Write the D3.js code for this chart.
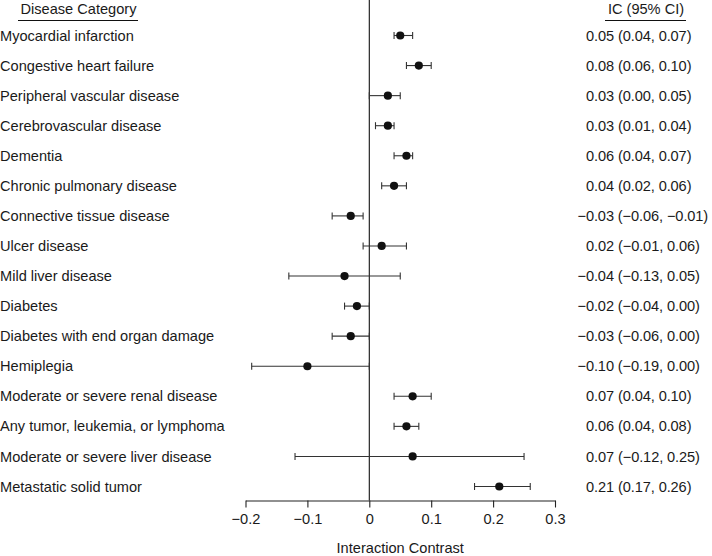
<!DOCTYPE html>
<html>
<head>
<meta charset="utf-8">
<script src="https://cdn.jsdelivr.net/npm/d3@7"></script>
<style>
  body { margin: 0; background: #fff; }
  svg text { font-family: "Liberation Sans", Arial, sans-serif; fill: #1a1a1a; }
</style>
</head>
<body>
<div id="chart"></div>
<script>
var categories = [
  "Myocardial infarction",
  "Congestive heart failure",
  "Peripheral vascular disease",
  "Cerebrovascular disease",
  "Dementia",
  "Chronic pulmonary disease",
  "Connective tissue disease",
  "Ulcer disease",
  "Mild liver disease",
  "Diabetes",
  "Diabetes with end organ damage",
  "Hemiplegia",
  "Moderate or severe renal disease",
  "Any tumor, leukemia, or lymphoma",
  "Moderate or severe liver disease",
  "Metastatic solid tumor"
];
var estimate = [0.05, 0.08, 0.03, 0.03, 0.06, 0.04, -0.03, 0.02, -0.04, -0.02, -0.03, -0.10, 0.07, 0.06, 0.07, 0.21];
var lower    = [0.04, 0.06, 0.00, 0.01, 0.04, 0.02, -0.06, -0.01, -0.13, -0.04, -0.06, -0.19, 0.04, 0.04, -0.12, 0.17];
var upper    = [0.07, 0.10, 0.05, 0.04, 0.07, 0.06, -0.01, 0.06, 0.05, 0.00, 0.00, 0.00, 0.10, 0.08, 0.25, 0.26];
var tickValues = [-0.2, -0.1, 0, 0.1, 0.2, 0.3];

var width = 712, height = 556;
var fontSize = 14.6;

var svg = d3.select("#chart").append("svg")
    .attr("width", width)
    .attr("height", height);

var x = d3.scaleLinear()
    .domain([-0.2, 0.3])
    .range([245.5, 555]);

var y = d3.scalePoint()
    .domain(d3.range(categories.length))
    .range([35.5, 486.5]);

var axisY = 500.5;

// zero reference line
svg.append("line")
    .attr("x1", x(0)).attr("x2", x(0))
    .attr("y1", 0).attr("y2", axisY)
    .style("stroke", "#111")
    .style("stroke-width", 1.1);

// axis
var axis = svg.append("g")
    .attr("transform", "translate(0," + axisY + ")")
    .call(d3.axisBottom(x)
        .tickValues(tickValues)
        .tickSize(7)
        .tickSizeOuter(0)
        .tickPadding(6)
        .tickFormat(function(d){ return d === 0 ? "0" : d3.format(".1f")(d); }));
axis.select(".domain").style("stroke", "#222").style("stroke-width", 1.1);
axis.selectAll(".tick line").style("stroke", "#222").style("stroke-width", 1.1);
axis.selectAll(".tick text")
    .style("font-size", fontSize + "px")
    .style("font-family", "'Liberation Sans', Arial, sans-serif")
    .attr("fill", "#1a1a1a");

svg.append("text")
    .attr("x", (x.range()[0] + x.range()[1]) / 2)
    .attr("y", 553)
    .attr("text-anchor", "middle")
    .style("font-size", fontSize + "px")
    .text("Interaction Contrast");

// headers
svg.append("text")
    .attr("x", 78.5).attr("y", 14)
    .attr("text-anchor", "middle")
    .style("font-size", fontSize + "px")
    .text("Disease Category");
svg.append("line")
    .attr("x1", 18).attr("x2", 138)
    .attr("y1", 20.5).attr("y2", 20.5)
    .style("stroke", "#111");

svg.append("text")
    .attr("x", 646).attr("y", 14)
    .attr("text-anchor", "middle")
    .style("font-size", fontSize + "px")
    .text("IC (95% CI)");
svg.append("line")
    .attr("x1", 605).attr("x2", 686)
    .attr("y1", 20.5).attr("y2", 20.5)
    .style("stroke", "#111");

// rows
var f2 = d3.format(".2f");
var rows = svg.selectAll("g.row")
    .data(categories)
    .enter().append("g")
    .attr("class", "row")
    .attr("transform", function(d, i){ return "translate(0," + y(i) + ")"; });

rows.append("text")
    .attr("x", 0)
    .attr("dy", "0.35em")
    .style("font-size", fontSize + "px")
    .text(function(d){ return d; });

// width of a minus sign so negative values hang to the left
var probe = svg.append("text").style("font-size", fontSize + "px").text("\u2212");
var minusW = probe.node().getComputedTextLength();
probe.remove();

rows.append("text")
    .attr("x", function(d, i){ return estimate[i] < 0 ? 586 - minusW : 586; })
    .attr("dy", "0.35em")
    .style("font-size", fontSize + "px")
    .style("letter-spacing", "-0.1px")
    .text(function(d, i){ return f2(estimate[i]) + " (" + f2(lower[i]) + ", " + f2(upper[i]) + ")"; });

var capH = 3.5;
rows.append("line")
    .attr("x1", function(d, i){ return x(lower[i]); })
    .attr("x2", function(d, i){ return x(upper[i]); })
    .style("stroke", "#333").style("stroke-width", 1.1);
rows.append("line")
    .attr("x1", function(d, i){ return x(lower[i]); })
    .attr("x2", function(d, i){ return x(lower[i]); })
    .attr("y1", -capH).attr("y2", capH)
    .style("stroke", "#333").style("stroke-width", 1.1);
rows.append("line")
    .attr("x1", function(d, i){ return x(upper[i]); })
    .attr("x2", function(d, i){ return x(upper[i]); })
    .attr("y1", -capH).attr("y2", capH)
    .style("stroke", "#333").style("stroke-width", 1.1);
rows.append("circle")
    .attr("cx", function(d, i){ return x(estimate[i]); })
    .attr("r", 4.1)
    .style("fill", "#111");
</script>
</body>
</html>
